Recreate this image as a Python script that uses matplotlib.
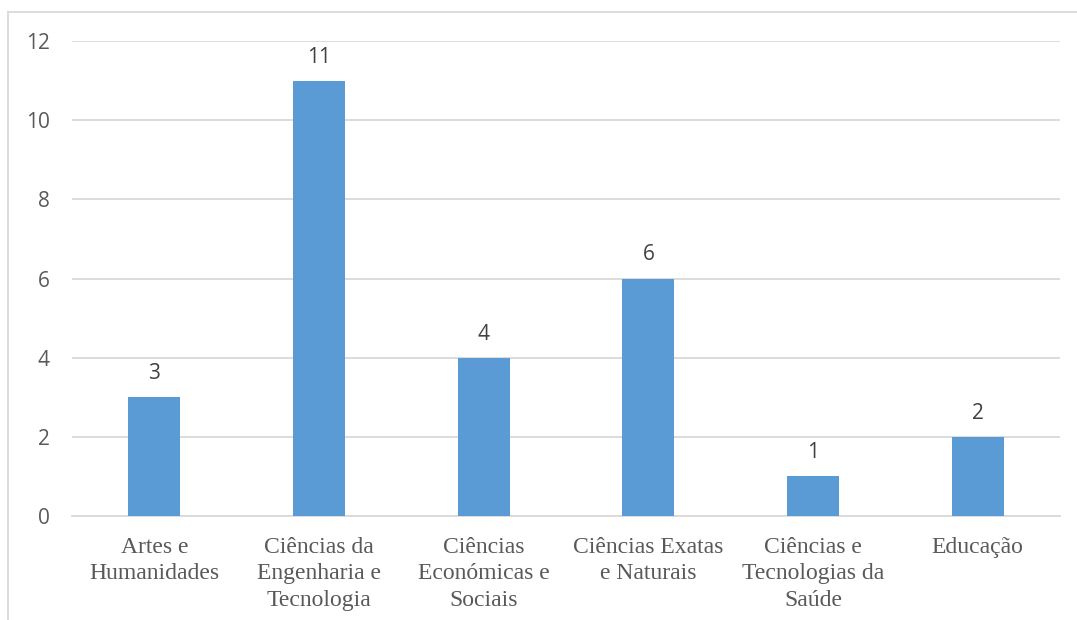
import matplotlib
matplotlib.use("Agg")
import matplotlib.pyplot as plt
from matplotlib.lines import Line2D

categories = [
    "Artes e\nHumanidades",
    "Ciências da\nEngenharia e\nTecnologia",
    "Ciências\nEconómicas e\nSociais",
    "Ciências Exatas\ne Naturais",
    "Ciências e\nTecnologias da\nSaúde",
    "Educação",
]
values = [3, 11, 4, 6, 1, 2]
y_ticks = [0, 2, 4, 6, 8, 10, 12]

W, H, DPI = 1077, 620, 100
fig = plt.figure(figsize=(W / DPI, H / DPI), dpi=DPI)
fig.patch.set_facecolor("white")

# chart frame (top and left edges)
frame_col = "#D9D9D9"
fig.add_artist(Line2D([8 / W, 1.0], [1 - 12 / H, 1 - 12 / H], color=frame_col, lw=1.3,
                      transform=fig.transFigure))
fig.add_artist(Line2D([8 / W, 8 / W], [0.0, 1 - 12 / H], color=frame_col, lw=1.3,
                      transform=fig.transFigure))

left, right, top, bottom = 72, 1060, 41, 516
ax = fig.add_axes([left / W, 1 - bottom / H, (right - left) / W, (bottom - top) / H])

x = list(range(len(categories)))
ax.bar(x, values, width=0.316, color="#5B9BD5", zorder=3)

ax.set_xlim(-0.5, len(categories) - 0.5)
ax.set_ylim(0, 12)
ax.set_yticks(y_ticks)
ax.set_yticklabels([str(t) for t in y_ticks], fontfamily="Open Sans", fontsize=15, color="#595959")
ax.yaxis.grid(True, color="#D9D9D9", lw=1.3, zorder=0)
ax.set_axisbelow(True)
for s in ax.spines.values():
    s.set_visible(False)
ax.spines["bottom"].set_visible(True)
ax.spines["bottom"].set_color("#D9D9D9")
ax.spines["bottom"].set_linewidth(1.3)
ax.tick_params(axis="both", length=0)
ax.tick_params(axis="y", pad=16)
ax.tick_params(axis="x", pad=15)

ax.set_xticks(x)
ax.set_xticklabels(categories, fontfamily="Liberation Serif", fontsize=17, color="#595959",
                   linespacing=1.34)

for xi, v in zip(x, values):
    ax.annotate(str(v), (xi, v), xytext=(0, 13), textcoords="offset points",
                ha="center", va="baseline", fontfamily="Open Sans", fontsize=15,
                color="#404040")

fig.savefig("out.png", dpi=DPI)
